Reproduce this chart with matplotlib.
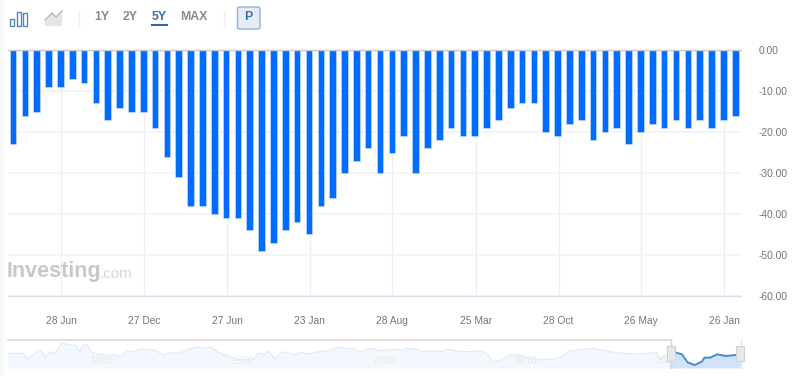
import numpy as np
import matplotlib
matplotlib.use("Agg")
import matplotlib.pyplot as plt
from matplotlib.patches import Rectangle, FancyBboxPatch, Polygon

plt.rcParams['font.family'] = ['Liberation Sans', 'DejaVu Sans']

# Datos del grafico principal
valores = [-23, -16, -15, -9, -9, -7, -8, -13, -17, -14, -15, -15, -19, -26, -31, -38,
           -38, -40, -41, -41, -44, -49, -47, -44, -42, -45, -38, -36, -30, -27, -24, -30,
           -25, -21, -30, -24, -22, -19, -21, -21, -19, -17, -14, -13, -13, -20, -21, -18,
           -17, -22, -20, -19, -23, -20, -18, -19, -17, -19, -17, -19, -17, -16]
pos_fechas = [4.08, 11.08, 18.08, 25.05, 32.03, 39.07, 46.08, 53.02, 60.07]
fechas = ['28 Jun', '27 Dec', '27 Jun', '23 Jan', '28 Aug', '25 Mar', '28 Oct', '26 May', '26 Jan']
ticks_y = [0, -10, -20, -30, -40, -50, -60]

# Navegador inferior
nav_anios = [1973.2, 1974.3, 1974.6, 1975.1, 1975.5, 1975.9, 1976.2, 1976.5, 1977.0, 1977.6,
             1978.0, 1978.3, 1978.5, 1978.8, 1979.1, 1979.7, 1980.3, 1980.9, 1981.2, 1981.6,
             1982.1, 1982.5, 1983.1, 1983.7, 1984.2, 1984.7, 1985.3, 1985.7, 1986.6, 1987.0,
             1987.6, 1988.1, 1988.9, 1989.3, 1990.0, 1990.6, 1990.9, 1991.4, 1991.6, 1992.1,
             1992.6, 1993.0, 1993.4, 1994.0, 1994.3, 1994.9, 1995.9, 1996.7, 1997.3, 1997.6,
             1998.1, 1998.6, 1999.1, 1999.5, 2000.8, 2001.1, 2001.4, 2002.0, 2002.5, 2003.2,
             2003.8, 2004.4, 2005.3, 2006.0, 2006.7, 2007.2, 2007.5, 2008.0, 2008.7, 2009.3,
             2009.9, 2010.7, 2011.8, 2012.4, 2012.9, 2013.5, 2014.5, 2015.4, 2016.6, 2018.0,
             2019.1, 2019.3, 2020.0, 2020.4, 2020.9, 2021.3, 2021.8, 2022.3, 2022.5, 2022.9,
             2023.4, 2024.0, 2024.7, 2025.0]
nav_valores = [44, 44, 27, 44, 55, 32, 49, 41, 75, 69,
               67, 49, 69, 69, 47, 41, 39, 39, 32, 53,
               47, 57, 55, 52, 39, 45, 44, 51, 64, 59,
               62, 47, 34, 27, 24, 27, 44, 41, 51, 27,
               47, 47, 39, 47, 41, 47, 52, 63, 57, 59,
               47, 57, 57, 52, 57, 52, 59, 57, 49, 52,
               49, 55, 49, 49, 52, 39, 19, 22, 39, 39,
               32, 24, 27, 32, 51, 54, 59, 52, 44, 42,
               46, 24, 47, 47, 41, 17, 9, 19, 31, 31,
               41, 36, 39, 39]
nav_decadas = [1980, 1990, 2000, 2010, 2020]
inicio_sel = 2020.1
fin_sel = 2025.08

AZUL = '#006dff'
GRIS_TEXTO = '#767676'
W, H = 798, 376


def caja(x0, y0, x1, y1):
    # pixeles de la imagen -> rect de figura
    return [x0 / W, 1 - y1 / H, (x1 - x0) / W, (y1 - y0) / H]


fig = plt.figure(figsize=(7.98, 3.76), dpi=100)

# Grafico principal
ax = fig.add_axes(caja(7.5, 50.3, 741, 295.7))
x = np.arange(len(valores))
ax.bar(x, valores, width=0.56, color=AZUL, edgecolor='#cfe2ff', linewidth=0.4, zorder=3)
ax.set_xlim(-0.465, 61.49)
ax.set_ylim(-60, 0)
ax.set_xticks(pos_fechas)
ax.set_xticklabels(fechas)
ax.set_yticks(ticks_y)
ax.set_yticklabels(['%.2f' % v for v in ticks_y])
ax.yaxis.tick_right()
ax.tick_params(axis='x', length=0, pad=14.5, labelsize=7.4, labelcolor=GRIS_TEXTO)
ax.tick_params(axis='y', length=0, pad=12.5, labelsize=7.4, labelcolor=GRIS_TEXTO)
ax.grid(axis='y', color='#f4f4f4', linewidth=1.2, zorder=0)
ax.grid(axis='x', color='#eeeef2', linewidth=0.9, zorder=0)
for lado in ['left', 'right']:
    ax.spines[lado].set_visible(False)
ax.spines['top'].set_color('#c9c9c9')
ax.spines['top'].set_linewidth(1.0)
ax.spines['top'].set_zorder(4)
ax.spines['bottom'].set_color('#d6dfee')
ax.spines['bottom'].set_linewidth(1.0)

# Navegador
nav = fig.add_axes(caja(7.5, 340.3, 741, 368))
nav_anios = np.array(nav_anios)
nav_valores = np.array(nav_valores)
antes = nav_anios <= inicio_sel
despues = nav_anios >= 2020.0
nav.fill_between(nav_anios[antes], nav_valores[antes], 0, color='#f3f8fe', linewidth=0)
nav.plot(nav_anios[antes], nav_valores[antes], color='#dfecf8', linewidth=0.9)
nav.fill_between(nav_anios[despues], nav_valores[despues], 0, color='#cfe3fb', linewidth=0, zorder=2)
nav.plot(nav_anios[despues], nav_valores[despues], color='#4a8ccb', linewidth=1.4, zorder=3)
for d in nav_decadas:
    nav.text(d - 0.15, 7, str(d), ha='center', va='bottom', fontsize=7.4, color='#e8e8e8', zorder=2.5)
nav.set_xlim(1973.17, fin_sel)
nav.set_ylim(0, 83)
nav.axis('off')
nav.plot([1973.17, inicio_sel], [83, 83], color='#d6d6d6', linewidth=1.1, clip_on=False)
nav.plot([inicio_sel, inicio_sel], [83, 0], color='#d6d6d6', linewidth=1.0, clip_on=False)
nav.plot([fin_sel, fin_sel], [83, 0], color='#e2e2e2', linewidth=1.0, clip_on=False, zorder=2)
for xh in [inicio_sel, fin_sel - 0.07]:
    nav.add_patch(Rectangle((xh - 0.28, 22), 0.56, 45, facecolor='#e8e8e8', edgecolor='#d2d2d2',
                            linewidth=0.8, clip_on=False, zorder=5))

# Capa de la barra superior, sombra izquierda y marca de agua
capa = fig.add_axes([0, 0, 1, 1], facecolor='none')
capa.set_xlim(0, W)
capa.set_ylim(H, 0)
capa.axis('off')

sombra = np.linspace(0, 1, 8).reshape(1, -1)
capa.imshow(sombra, extent=(0, 7, H, 0), cmap='Greys_r', vmin=-14, vmax=1, aspect='auto', zorder=0)
capa.set_xlim(0, W)
capa.set_ylim(H, 0)

# iconos
for x0, y0 in [(10, 19), (16.5, 11.5), (23, 13)]:
    capa.add_patch(Rectangle((x0, y0), 4.2, 26 - y0, facecolor='white', edgecolor='#4f86c0', linewidth=1.0))
capa.add_patch(Polygon([(45, 20), (52, 13), (56, 17), (62, 11), (62, 26), (45, 26)],
                       facecolor='#e3e5e8', edgecolor='none'))
capa.plot([45, 52, 56, 62], [20, 13, 17, 11], color='#b4b8bd', linewidth=1.0)
capa.plot([79, 79], [11, 25], color='#eeeeee', linewidth=1.0)
capa.plot([223.5, 223.5], [11, 25], color='#eeeeee', linewidth=1.0)

for txt, xt, col in [('1Y', 101.5, '#8a8a8a'), ('2Y', 130, '#8a8a8a'), ('5Y', 159, '#3f72ad'), ('MAX', 193.5, '#8a8a8a')]:
    capa.text(xt, 17, txt, ha='center', va='center', fontsize=8.8, fontweight='bold', color=col)
capa.plot([152, 167], [25, 25], color='#2f66a6', linewidth=1.5)
capa.add_patch(FancyBboxPatch((237.5, 7), 22.5, 22, boxstyle='round,pad=0,rounding_size=2',
                              facecolor='#e6ecf5', edgecolor='#8fb2d6', linewidth=1.0))
capa.text(248.5, 17.5, 'P', ha='center', va='center', fontsize=8.8, fontweight='bold', color='#3f72ad')

# marca de agua
capa.text(6.5, 272, 'Investing', ha='left', va='center', fontsize=15.5, fontweight='bold', color='#c8c8c8')
capa.text(99.5, 274.5, '.com', ha='left', va='center', fontsize=11, color='#d6d6d6')

fig.savefig('out.png', dpi=100)
